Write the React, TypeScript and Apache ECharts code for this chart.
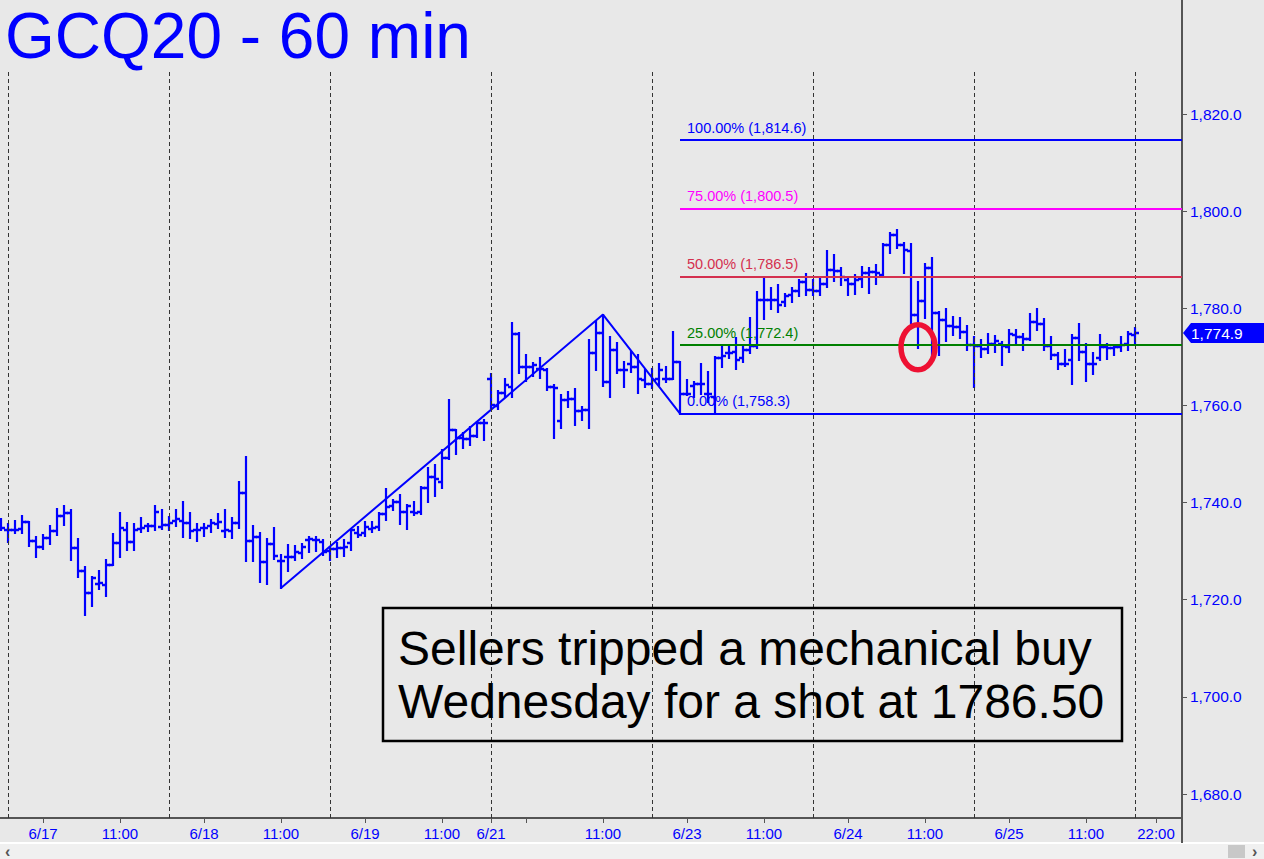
import React, { useEffect, useRef } from "react";
import * as echarts from "echarts";

// ---- data -----------------------------------------------------------------
const FIRST_BAR = -1; // bar slot of the first hourly bar (slot 0 = 6/16 19:00 session start)

const opens = [
  1735.8, 1734.4, 1734.3, 1734.6, 1736.1, 1732.1, 1730.8, 1732.7, 1734.1, 1737.3,
  1737.8, 1730.7, 1726.0, 1721.4, 1723.3, 1723.1, 1727.2, 1731.7, 1734.4, 1731.8,
  1734.6, 1735.2, 1735.1, 1735.0, 1735.4, 1736.3, 1736.3, 1735.8, 1734.3, 1734.8,
  1735.1, 1735.5, 1734.1, 1734.1, 1735.8, 1742.0, 1732.0, 1732.9, 1727.7, 1731.4,
  1728.0, 1728.8, 1728.8, 1729.6, 1732.2, 1732.2, 1731.9, 1730.0, 1730.5, 1730.7,
  1731.7, 1733.7, 1733.7, 1734.6, 1735.0, 1737.6, 1739.3, 1740.1, 1738.0, 1738.0,
  1738.0, 1743.0, 1745.3, 1744.2, 1749.2, 1754.9, 1753.2, 1753.0, 1753.8, 1756.3,
  1765.5, 1759.9, 1762.5, 1763.7, 1774.8, 1768.0, 1768.0, 1767.6, 1767.3, 1763.7,
  1756.8, 1761.2, 1761.4, 1758.9, 1759.0, 1770.7, 1775.0, 1764.9, 1771.4, 1767.3,
  1768.6, 1768.0, 1765.2, 1764.4, 1765.5, 1765.5, 1765.5, 1768.9, 1762.4, 1764.1,
  1764.5, 1762.4, 1761.8, 1769.7, 1770.7, 1771.0, 1769.7, 1771.4, 1772.2, 1781.7,
  1781.8, 1781.7, 1781.3, 1782.7, 1783.6, 1785.4, 1783.7, 1783.6, 1785.0, 1787.8,
  1787.7, 1785.8, 1785.0, 1786.1, 1787.3, 1787.5, 1786.9, 1793.0, 1795.1, 1793.0,
  1791.8, 1778.6, 1781.5, 1788.2, 1779.0, 1777.5, 1776.3, 1776.2, 1775.1, 1772.4,
  1772.2, 1771.7, 1772.6, 1772.7, 1772.0, 1774.4, 1774.1, 1773.6, 1777.2, 1776.7,
  1772.2, 1770.3, 1768.5, 1769.3, 1773.8, 1771.0, 1768.5, 1769.8, 1772.0, 1771.9,
  1772.0, 1772.6, 1774.4,
];
const highs = [
  1736.7, 1735.5, 1736.3, 1737.3, 1736.1, 1733.0, 1733.4, 1735.1, 1738.6, 1739.3,
  1738.5, 1732.4, 1726.8, 1724.6, 1726.0, 1728.1, 1733.6, 1737.8, 1735.8, 1735.5,
  1736.9, 1735.6, 1739.2, 1738.4, 1737.1, 1738.4, 1740.2, 1737.8, 1735.6, 1735.5,
  1736.5, 1737.6, 1738.4, 1736.9, 1744.2, 1749.4, 1735.1, 1733.8, 1732.5, 1734.7,
  1729.3, 1731.2, 1731.0, 1731.5, 1732.9, 1732.9, 1732.3, 1730.8, 1731.7, 1732.2,
  1734.4, 1735.0, 1736.0, 1736.1, 1737.9, 1742.7, 1740.6, 1741.5, 1739.4, 1740.1,
  1743.2, 1747.1, 1747.7, 1750.8, 1761.1, 1755.0, 1754.3, 1755.6, 1756.6, 1757.1,
  1766.4, 1763.0, 1765.5, 1777.0, 1775.0, 1770.4, 1768.7, 1769.7, 1767.6, 1764.2,
  1762.1, 1762.8, 1763.3, 1759.7, 1773.4, 1777.2, 1778.7, 1774.1, 1772.8, 1769.0,
  1771.0, 1770.4, 1767.3, 1767.6, 1768.6, 1768.0, 1775.1, 1769.0, 1765.2, 1764.8,
  1768.6, 1766.8, 1770.0, 1772.2, 1772.1, 1773.8, 1772.4, 1777.9, 1783.4, 1786.3,
  1784.1, 1784.8, 1782.9, 1784.1, 1785.8, 1787.0, 1785.9, 1786.3, 1791.8, 1790.9,
  1788.2, 1786.3, 1786.8, 1788.4, 1788.2, 1788.9, 1793.2, 1795.5, 1796.2, 1793.4,
  1793.2, 1785.5, 1789.2, 1790.3, 1779.3, 1779.8, 1778.2, 1777.9, 1776.3, 1774.1,
  1773.4, 1774.8, 1774.2, 1773.1, 1775.6, 1775.5, 1774.8, 1778.9, 1779.8, 1777.7,
  1774.0, 1770.8, 1771.4, 1774.4, 1776.7, 1772.7, 1770.7, 1774.4, 1772.7, 1772.4,
  1774.0, 1775.1, 1776.0,
];
const lows = [
  1734.3, 1731.9, 1733.7, 1733.7, 1731.1, 1728.8, 1730.5, 1731.5, 1733.4, 1735.3,
  1728.2, 1724.7, 1716.9, 1718.7, 1722.2, 1720.7, 1727.2, 1728.8, 1730.3, 1730.3,
  1733.9, 1734.1, 1734.4, 1734.5, 1734.4, 1735.2, 1733.0, 1732.7, 1732.1, 1733.1,
  1733.9, 1734.8, 1732.9, 1732.7, 1734.8, 1727.9, 1727.9, 1723.6, 1723.2, 1728.3,
  1722.4, 1726.0, 1728.1, 1728.6, 1729.8, 1730.1, 1729.2, 1728.2, 1728.8, 1728.9,
  1730.3, 1732.9, 1733.2, 1733.9, 1734.4, 1736.5, 1738.4, 1735.6, 1734.6, 1737.4,
  1737.6, 1740.1, 1741.3, 1742.9, 1748.9, 1750.1, 1751.3, 1751.8, 1753.6, 1752.8,
  1759.4, 1759.2, 1761.8, 1761.8, 1766.6, 1765.1, 1766.0, 1765.6, 1763.2, 1753.2,
  1755.3, 1759.6, 1755.9, 1757.0, 1755.4, 1767.2, 1763.9, 1761.8, 1766.6, 1763.8,
  1766.9, 1762.5, 1763.8, 1763.5, 1764.2, 1764.8, 1765.5, 1758.3, 1762.1, 1761.8,
  1762.4, 1760.8, 1758.6, 1767.9, 1769.7, 1767.6, 1769.0, 1770.7, 1771.9, 1777.7,
  1779.9, 1779.3, 1780.4, 1781.3, 1782.5, 1782.7, 1782.7, 1782.7, 1784.4, 1785.6,
  1784.8, 1782.7, 1782.9, 1784.4, 1783.2, 1785.1, 1786.9, 1791.3, 1792.4, 1787.2,
  1776.9, 1771.8, 1777.9, 1770.1, 1770.3, 1773.3, 1774.4, 1773.8, 1771.4, 1763.8,
  1770.0, 1770.7, 1771.0, 1768.3, 1771.0, 1772.9, 1771.5, 1773.4, 1775.5, 1771.4,
  1769.6, 1767.4, 1768.1, 1764.4, 1769.3, 1765.0, 1766.4, 1769.4, 1769.6, 1770.3,
  1771.2, 1771.4, 1772.7,
];
const closes = [
  1734.8, 1734.3, 1734.4, 1736.1, 1732.1, 1730.8, 1732.7, 1734.1, 1737.3, 1737.8,
  1730.7, 1726.0, 1721.4, 1724.5, 1723.4, 1727.2, 1731.7, 1734.8, 1731.8, 1734.4,
  1734.8, 1735.2, 1738.1, 1735.4, 1735.8, 1736.7, 1735.8, 1734.1, 1734.4, 1734.7,
  1735.8, 1736.1, 1734.3, 1735.8, 1742.0, 1732.0, 1732.9, 1727.7, 1731.4, 1729.1,
  1727.9, 1728.8, 1729.8, 1730.8, 1732.4, 1732.2, 1729.8, 1730.5, 1730.7, 1730.8,
  1734.3, 1733.4, 1735.0, 1734.8, 1737.6, 1739.1, 1740.1, 1738.0, 1739.3, 1737.8,
  1743.0, 1745.3, 1744.9, 1749.2, 1754.9, 1753.2, 1753.0, 1753.8, 1756.3, 1756.3,
  1760.0, 1762.5, 1764.2, 1774.8, 1768.0, 1768.0, 1768.3, 1767.6, 1763.7, 1763.5,
  1761.2, 1761.4, 1758.9, 1759.0, 1770.7, 1775.0, 1764.9, 1771.4, 1767.3, 1767.3,
  1768.0, 1765.5, 1764.4, 1765.2, 1767.3, 1765.5, 1769.0, 1762.4, 1762.4, 1764.5,
  1764.5, 1762.3, 1769.7, 1770.1, 1770.7, 1769.4, 1771.4, 1772.2, 1781.7, 1781.8,
  1781.7, 1780.7, 1782.5, 1783.6, 1785.4, 1783.7, 1783.6, 1785.0, 1787.8, 1787.7,
  1786.5, 1785.0, 1785.8, 1787.3, 1787.5, 1787.2, 1793.0, 1795.1, 1793.0, 1792.0,
  1778.6, 1781.5, 1788.2, 1779.0, 1777.5, 1776.3, 1776.2, 1775.1, 1772.4, 1772.2,
  1771.7, 1772.6, 1773.3, 1772.2, 1774.8, 1774.1, 1773.6, 1777.2, 1776.7, 1772.2,
  1770.3, 1768.5, 1768.5, 1773.8, 1771.0, 1768.5, 1768.5, 1772.0, 1771.9, 1772.0,
  1772.4, 1774.8, 1774.9,
];

const tickSlots = [5, 16, 28, 39, 51, 62, 69, 74, 85, 97, 108, 120, 131, 143, 154, 164];
const tickLabels = ["6/17", "11:00", "6/18", "11:00", "6/19", "11:00", "6/21", "", "11:00", "6/23", "11:00", "6/24", "11:00", "6/25", "11:00", "22:00"];
const yTickValues = [1680, 1700, 1720, 1740, 1760, 1780, 1800, 1820];
const sessionStarts = [0, 23, 46, 69, 92, 115, 138, 161];

const swingSlots = [39, 85, 96];
const swingPrices = [1722.4, 1778.7, 1758.3];
const fibStartSlot = 96;
const fibLevels = [1814.6, 1800.5, 1786.5, 1772.4, 1758.3];
const fibLabels = ["100.00% (1,814.6)", "75.00% (1,800.5)", "50.00% (1,786.5)", "25.00% (1,772.4)", "0.00% (1,758.3)"];
const fibColors = ["#0000ff", "#ff00ff", "#d4304f", "#008000", "#0000ff"];

const circledSlot = 130;
const circledPrice = 1772.0;
const lastPrice = 1774.9;

const titleText = "GCQ20 - 60 min";
const noteLines = ["Sellers tripped a mechanical buy", "Wednesday for a shot at 1786.50"];

// ---- layout ---------------------------------------------------------------
const W = 1264;
const H = 859;
const GRID_RIGHT_PX = 1182;
const GRID_BOTTOM_PX = 818;
const SLOT_PX = 7;
const X_MIN = -8 / SLOT_PX;
const X_MAX = X_MIN + GRID_RIGHT_PX / SLOT_PX;
const PX_PER_UNIT = 680 / 140;
const Y_MAX = 1820 + 114 / PX_PER_UNIT;
const Y_MIN = 1820 - (GRID_BOTTOM_PX - 114) / PX_PER_UNIT;
const SEP_TOP = 1820 + (114 - 71) / PX_PER_UNIT;

const BLUE = "#0000ff";
const FONT = "'Liberation Sans', Arial, Helvetica, sans-serif";

const fmtPrice = (v: number) =>
  v.toLocaleString("en-US", { minimumFractionDigits: 1, maximumFractionDigits: 1 });

export default function App() {
  const ref = useRef<HTMLDivElement>(null);

  useEffect(() => {
    document.body.style.margin = "0";
    if (!ref.current) return;
    const chart = echarts.init(ref.current, undefined, { renderer: "svg" });

    const bars = opens.map((o, i) => [FIRST_BAR + i, o, highs[i], lows[i], closes[i]]);

    const option: any = {
      animation: false,
      backgroundColor: "#e8e8e8",
      grid: { left: 0, right: W - GRID_RIGHT_PX, top: 0, bottom: H - GRID_BOTTOM_PX, containLabel: false },
      xAxis: {
        type: "value",
        min: X_MIN,
        max: X_MAX,
        splitLine: { show: false },
        axisLine: { show: true, onZero: false, lineStyle: { color: "#555555", width: 2 } },
        axisTick: { show: true, customValues: tickSlots, length: 5, lineStyle: { color: "#555555", width: 1 } },
        axisLabel: {
          customValues: tickSlots.filter((_, i) => tickLabels[i] !== ""),
          formatter: (v: number) => {
            const i = tickSlots.indexOf(Math.round(v));
            return i >= 0 ? tickLabels[i] : "";
          },
          color: BLUE,
          fontSize: 15,
          fontFamily: FONT,
          margin: 8,
          hideOverlap: false,
        },
      },
      yAxis: {
        type: "value",
        position: "right",
        min: Y_MIN,
        max: Y_MAX,
        splitLine: { show: false },
        axisLine: { show: true, onZero: false, lineStyle: { color: "#555555", width: 2 } },
        axisTick: { show: true, customValues: yTickValues, length: 5, lineStyle: { color: "#555555" } },
        axisLabel: {
          customValues: yTickValues,
          formatter: (v: number) => fmtPrice(v),
          color: BLUE,
          fontSize: 15.5,
          fontFamily: FONT,
          margin: 8,
        },
      },
      series: [
        {
          type: "line",
          name: "separators",
          data: [],
          silent: true,
          z: 1,
          markLine: {
            silent: true,
            symbol: ["none", "none"],
            label: { show: false },
            lineStyle: { color: "#333333", width: 1, type: [4, 3] },
            data: sessionStarts.map((s) => [{ coord: [s, Y_MIN] }, { coord: [s, SEP_TOP] }]),
          },
        },
        {
          type: "custom",
          name: "ohlc",
          z: 3,
          data: bars,
          encode: { x: 0, y: [1, 2, 3, 4] },
          renderItem: (_p: any, api: any) => {
            const x = api.value(0);
            const o = api.coord([x, api.value(1)]);
            const h = api.coord([x, api.value(2)]);
            const l = api.coord([x, api.value(3)]);
            const c = api.coord([x, api.value(4)]);
            const px = Math.round(h[0]);
            const st = { stroke: BLUE, lineWidth: 2.2 };
            const tk = { stroke: BLUE, lineWidth: 2.5 };
            const oy = Math.round(o[1]);
            const cy = Math.round(c[1]);
            return {
              type: "group",
              children: [
                { type: "line", shape: { x1: px, y1: Math.round(h[1]) - 1, x2: px, y2: Math.round(l[1]) + 1 }, style: st },
                { type: "line", shape: { x1: px - 4, y1: oy, x2: px, y2: oy }, style: tk },
                { type: "line", shape: { x1: px, y1: cy, x2: px + 4, y2: cy }, style: tk },
              ],
            };
          },
        },
        {
          type: "line",
          name: "swing",
          z: 4,
          data: swingSlots.map((s, i) => [s, swingPrices[i]]),
          symbol: "none",
          lineStyle: { color: BLUE, width: 2 },
          silent: true,
        },
        {
          type: "line",
          name: "fib",
          data: [],
          z: 5,
          silent: true,
          markLine: {
            silent: true,
            symbol: ["none", "none"],
            data: fibLevels.map((lv, i) => [
              {
                coord: [fibStartSlot, lv],
                lineStyle: { color: fibColors[i], width: 2, type: "solid" },
                label: {
                  show: true,
                  position: "insideStartTop",
                  formatter: fibLabels[i],
                  color: fibColors[i],
                  fontSize: 14.5,
                  fontFamily: FONT,
                  distance: [7, 5],
                },
              },
              { coord: [X_MAX, lv] },
            ]),
          },
        },
        {
          type: "custom",
          name: "circle",
          z: 6,
          data: [[circledSlot, circledPrice]],
          encode: { x: 0, y: 1 },
          renderItem: (_p: any, api: any) => {
            const p = api.coord([api.value(0), api.value(1)]);
            return {
              type: "ellipse",
              shape: { cx: p[0], cy: p[1], rx: 17, ry: 22.5 },
              style: { fill: "none", stroke: "#ee1133", lineWidth: 5.5 },
            };
          },
        },
      ],
    };

    chart.setOption(option);

    const py = chart.convertToPixel({ yAxisIndex: 0 }, lastPrice) as number;

    chart.setOption({
      graphic: [
        {
          type: "text",
          left: 5,
          top: 4,
          style: { text: titleText, fill: BLUE, fontSize: 64, fontFamily: FONT },
          z: 10,
        },
        {
          type: "rect",
          shape: { x: 383, y: 608, width: 739, height: 133 },
          style: { fill: "none", stroke: "#000000", lineWidth: 2.5 },
          z: 10,
        },
        {
          type: "text",
          x: 398,
          y: 648,
          style: { text: noteLines[0], fill: "#000000", fontSize: 48, fontFamily: FONT, verticalAlign: "middle" },
          z: 10,
        },
        {
          type: "text",
          x: 398,
          y: 701,
          style: { text: noteLines[1], fill: "#000000", fontSize: 48, fontFamily: FONT, verticalAlign: "middle" },
          z: 10,
        },
        {
          type: "polygon",
          shape: {
            points: [
              [GRID_RIGHT_PX + 1, py],
              [GRID_RIGHT_PX + 9, py - 10],
              [W, py - 10],
              [W, py + 10],
              [GRID_RIGHT_PX + 9, py + 10],
            ],
          },
          style: { fill: BLUE },
          z: 10,
        },
        {
          type: "text",
          x: GRID_RIGHT_PX + 9,
          y: py,
          style: { text: fmtPrice(lastPrice), fill: "#ffffff", fontSize: 15.5, fontFamily: FONT, verticalAlign: "middle" },
          z: 11,
        },
        {
          type: "rect",
          shape: { x: 0, y: 843, width: W, height: 16 },
          style: { fill: "#f0f0f0" },
          z: 10,
        },
        {
          type: "line",
          shape: { x1: 0, y1: 843, x2: W, y2: 843 },
          style: { stroke: "#ffffff", lineWidth: 2 },
          z: 11,
        },
        {
          type: "line",
          shape: { x1: GRID_RIGHT_PX, y1: GRID_BOTTOM_PX, x2: GRID_RIGHT_PX, y2: 843 },
          style: { stroke: "#555555", lineWidth: 2 },
          z: 11,
        },
        {
          type: "rect",
          shape: { x: 1228, y: 845, width: 17, height: 13 },
          style: { fill: "#c8c8c8" },
          z: 11,
        },
        {
          type: "text",
          x: 5,
          y: 851,
          style: { text: "‹", fill: "#555555", fontSize: 16, fontWeight: "bold", fontFamily: FONT, verticalAlign: "middle" },
          z: 11,
        },
        {
          type: "text",
          x: 1252,
          y: 851,
          style: { text: "›", fill: "#555555", fontSize: 16, fontWeight: "bold", fontFamily: FONT, verticalAlign: "middle" },
          z: 11,
        },
      ],
    });

    return () => chart.dispose();
  }, []);

  return <div ref={ref} style={{ width: W, height: H }} />;
}
